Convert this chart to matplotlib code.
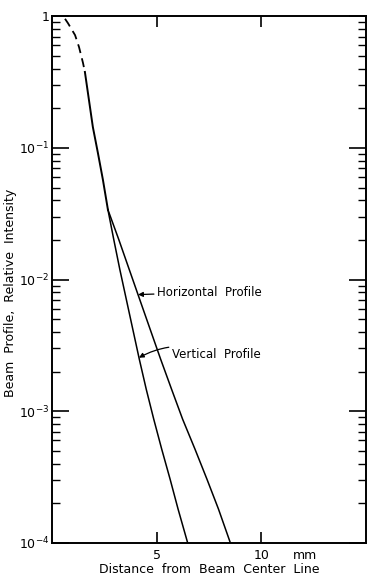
import numpy as np
import matplotlib
matplotlib.use("Agg")
import matplotlib.pyplot as plt

# distance in mm, relative intensity
dash_x = [0.62, 0.76, 1.10, 1.29, 1.48, 1.57]
dash_y = [0.955, 0.885, 0.718, 0.582, 0.441, 0.377]

common_x = [1.57, 1.95, 2.19, 2.43, 2.67]
common_y = [0.377, 0.144, 0.0917, 0.0573, 0.0339]

horiz_x = [2.67, 3.19, 3.69, 4.19, 4.69, 5.19, 5.71, 6.24, 6.83, 7.40, 7.95, 8.52]
horiz_y = [0.0339, 0.0201, 0.0119, 0.00705, 0.00418, 0.00248, 0.00147,
           0.000869, 0.000515, 0.000305, 0.000181, 1.0e-4]

vert_x = [2.67, 2.95, 3.24, 3.55, 3.86, 4.17, 4.50, 4.86, 5.24, 5.64, 6.02, 6.48]
vert_y = [0.0339, 0.0201, 0.0119, 0.00705, 0.00418, 0.00248, 0.00147,
          0.000869, 0.000515, 0.000305, 0.000181, 1.0e-4]

xticks = [5, 10]
yticks = [1e-4, 1e-3, 1e-2, 1e-1, 1]
ytick_labels = ["$10^{-4}$", "$10^{-3}$", "$10^{-2}$", "$10^{-1}$", "1"]

fig = plt.figure(figsize=(3.69, 5.77), dpi=100)
ax = fig.add_axes([0.141, 0.059, 0.851, 0.913])

ax.plot(dash_x, dash_y, color="black", lw=1.3, dashes=(5, 3))
ax.plot(common_x, common_y, color="black", lw=1.4)
ax.plot(horiz_x, horiz_y, color="black", lw=1.1)
ax.plot(vert_x, vert_y, color="black", lw=1.1)

ax.set_yscale("log")
ax.set_xlim(0, 15)
ax.set_ylim(1e-4, 1)

ax.set_xticks(xticks)
ax.set_xticklabels([str(t) for t in xticks])
ax.set_yticks(yticks)
ax.set_yticklabels(ytick_labels)
ax.yaxis.set_minor_locator(matplotlib.ticker.LogLocator(base=10, subs=np.arange(2, 10)))
ax.yaxis.set_minor_formatter(matplotlib.ticker.NullFormatter())

ax.tick_params(axis="x", which="major", direction="in", length=8, width=1.2,
               top=True, bottom=True, labelsize=9, pad=4)
ax.tick_params(axis="y", which="major", direction="in", length=12, width=1.2,
               left=True, right=True, labelsize=9, pad=2)
ax.tick_params(axis="y", which="minor", direction="in", length=6, width=1.0,
               left=True, right=True)
for s in ax.spines.values():
    s.set_linewidth(1.4)

ax.annotate("mm", xy=(12.1, 0), xycoords=("data", "axes fraction"),
            xytext=(0, -4), textcoords="offset points", ha="center", va="top", fontsize=9)
ax.set_xlabel("Distance  from  Beam  Center  Line", fontsize=9, labelpad=1)
ax.set_ylabel("Beam  Profile,  Relative  Intensity", fontsize=9)
ax.yaxis.set_label_coords(-0.11, 0.475)

ax.annotate("Horizontal  Profile", xy=(4.11, 0.00769), xytext=(5.0, 0.0080),
            ha="left", va="center", fontsize=8.5,
            arrowprops=dict(arrowstyle="-|>", color="black", lw=0.9,
                            mutation_scale=7, shrinkA=0, shrinkB=0))
ax.annotate("Vertical  Profile", xy=(4.15, 0.00255), xytext=(5.71, 0.0027),
            ha="left", va="center", fontsize=8.5,
            arrowprops=dict(arrowstyle="-|>", color="black", lw=0.9,
                            mutation_scale=7, shrinkA=0, shrinkB=0,
                            connectionstyle="arc3,rad=0.25"))

fig.savefig("out.png", dpi=100)
